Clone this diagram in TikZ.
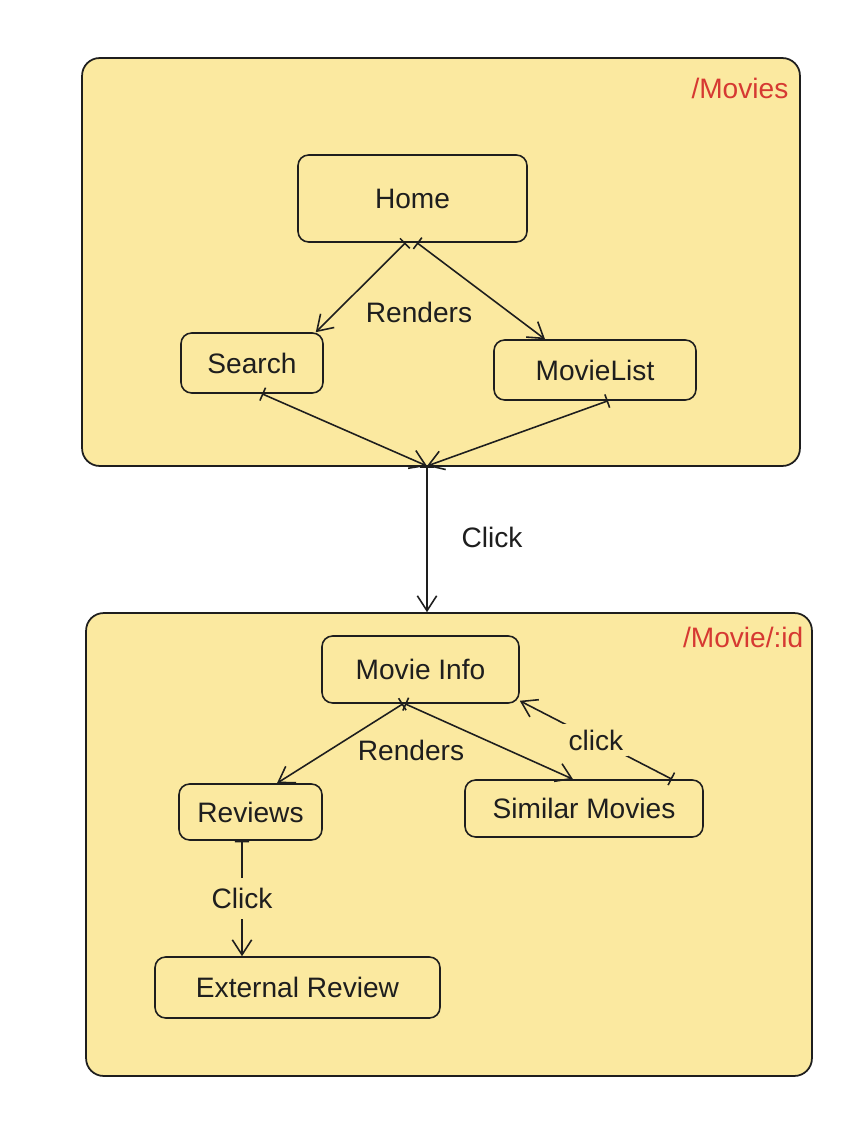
\documentclass[tikz,border=0pt]{standalone}
\usepackage{fontspec}
\setmainfont{Liberation Sans}
\usepackage{xcolor}
\definecolor{exyellow}{RGB}{251,233,160}
\definecolor{exred}{RGB}{214,57,50}
\definecolor{exink}{RGB}{30,30,30}
\usepackage{tikz}
\usetikzlibrary{arrows.meta}

\begin{document}
\begin{tikzpicture}[x=0.02cm, y=-0.02cm, line width=0.9pt, draw=exink, text=exink,
    frame/.style={draw=exink, fill=exyellow, line width=1pt, rounded corners=10pt, inner sep=0pt},
    comp/.style={draw=exink, rounded corners=6pt, font=\fontsize{16}{19}\selectfont},
    lbl/.style={font=\fontsize{16}{19}\selectfont},
    route/.style={font=\fontsize{16}{19}\selectfont, text=exred},
    link/.style={{Bar[width=8pt]}-{Straight Barb[length=8.5pt,width=11pt]}}]
  \useasboundingbox (0,0) rectangle (866,1128);

  % Top page: /Movies
  \node[frame, minimum width=14.36cm, minimum height=8.16cm] (moviespage) at (441,262) {};
  \node[route, anchor=east] (moviesroute) at (795,88) {/Movies};
  \node[comp, minimum width=4.58cm, minimum height=1.74cm] (home) at (412.5,198.5) {Home};
  \node[comp, minimum width=2.84cm, minimum height=1.2cm] (search) at (252,363) {Search};
  \node[comp, minimum width=4.04cm, minimum height=1.2cm] (movielist) at (595,370) {MovieList};
  \node[lbl] (renderstop) at (419,312) {Renders};
  \coordinate (join) at (427,466);

  % Bottom page: /Movie/:id
  \node[frame, minimum width=14.52cm, minimum height=9.26cm] (moviepage) at (449,844.5) {};
  \node[route, anchor=east] (movieroute) at (810,637) {/Movie/:id};
  \node[comp, minimum width=3.94cm, minimum height=1.34cm] (movieinfo) at (420.5,669.5) {Movie Info};
  \node[comp, minimum width=2.86cm, minimum height=1.12cm] (reviews) at (250.5,812) {Reviews};
  \node[comp, minimum width=4.76cm, minimum height=1.14cm] (similar) at (584,808.5) {Similar Movies};
  \node[comp, minimum width=5.7cm, minimum height=1.22cm] (extreview) at (297.5,987.5) {External Review};
  \node[lbl] (rendersbottom) at (411,750) {Renders};

  % Connectors
  \draw[link] ([xshift=-0.14cm]home.south) -- ([xshift=-0.16cm]search.north east);
  \draw[link] ([xshift=0.09cm]home.south) -- ([xshift=-1cm]movielist.north);
  \draw[link] ([xshift=0.2cm]search.south) -- (join);
  \draw[link] ([xshift=0.26cm]movielist.south) -- (join);
  \draw[link] (join) -- (join |- moviepage.north);
  \node[lbl, anchor=west] (clickmain) at (455,537) {Click};

  \draw[link] ([xshift=-0.35cm]movieinfo.south) -- ([xshift=0.53cm]reviews.north);
  \draw[link] ([xshift=-0.31cm]movieinfo.south) -- ([xshift=-0.22cm]similar.north);
  \draw[link] ([xshift=1.76cm]similar.north) -- node[lbl, fill=exyellow, inner sep=3pt] (clicksimilar) {click} ([yshift=0.06cm]movieinfo.south east);
  \draw[link] ([xshift=-0.17cm]reviews.south) -- node[lbl, fill=exyellow, inner ysep=6pt] (clickreview) {Click} ([xshift=-1.11cm]extreview.north);
\end{tikzpicture}
\end{document}
